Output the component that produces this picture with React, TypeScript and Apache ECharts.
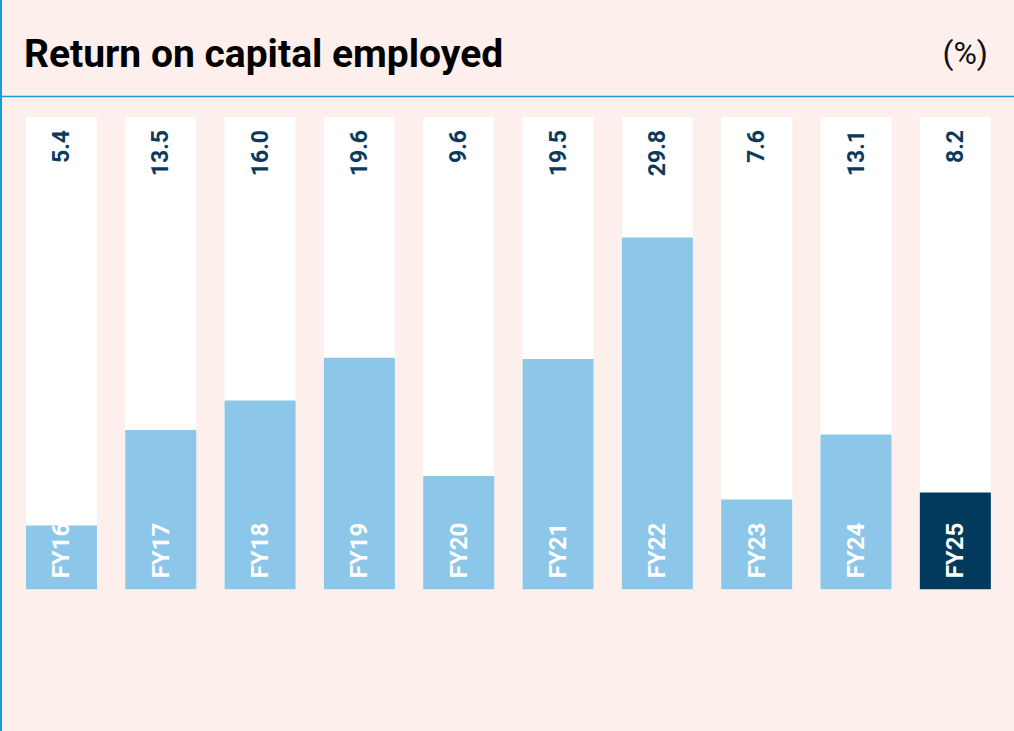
import React, { useEffect, useRef } from "react";
import * as echarts from "echarts";

const categories = ["FY16", "FY17", "FY18", "FY19", "FY20", "FY21", "FY22", "FY23", "FY24", "FY25"];
const values = [5.4, 13.5, 16.0, 19.6, 9.6, 19.5, 29.8, 7.6, 13.1, 8.2];
const axisMax = 40;
const titleText = "Return on capital employed";
const unitText = "(%)";

const BG = "#fdf0ec";
const LINE = "#1b9ad6";
const LIGHT = "#8cc6e8";
const NAVY = "#023a5e";
const FONT = "Roboto, 'Noto Sans', sans-serif";

export default function App() {
  const ref = useRef<HTMLDivElement>(null);
  useEffect(() => {
    if (!ref.current) return;
    const chart = echarts.init(ref.current, null, { renderer: "svg" });
    const last = values.length - 1;
    chart.setOption({
      animation: false,
      backgroundColor: BG,
      title: {
        text: titleText,
        left: 19,
        top: 29,
        textStyle: { fontFamily: FONT, fontSize: 39, fontWeight: "bold", color: "#000" },
      },
      graphic: [
        {
          type: "text",
          right: 26,
          top: 37,
          style: { text: unitText, font: `normal 32px ${FONT}`, fill: "#111" },
        },
        { type: "line", shape: { x1: 0, y1: 96.5, x2: 1014, y2: 96.5 }, style: { stroke: LINE, lineWidth: 1.5 } },
        { type: "line", shape: { x1: 1, y1: 0, x2: 1, y2: 731 }, style: { stroke: LINE, lineWidth: 2 } },
      ],
      grid: { left: 11.8, right: 9, top: 117, bottom: 141.7 },
      xAxis: { type: "category", data: categories, show: false },
      yAxis: { type: "value", min: 0, max: axisMax, show: false },
      series: [
        {
          type: "bar",
          data: categories.map(() => axisMax),
          barWidth: 71,
          barGap: "-100%",
          itemStyle: { color: "#ffffff" },
          silent: true,
          label: {
            show: true,
            position: "insideTop",
            distance: 13,
            rotate: 90,
            align: "right",
            verticalAlign: "middle",
            formatter: (p: any) => values[p.dataIndex].toFixed(1),
            fontFamily: FONT,
            fontSize: 23,
            fontWeight: "bold",
            color: "#0b3a5c",
          },
        },
        {
          type: "bar",
          data: values.map((v, i) => ({ value: v, itemStyle: { color: i === last ? NAVY : LIGHT } })),
          barWidth: 71,
          barGap: "-100%",
          label: {
            show: true,
            position: "insideBottom",
            distance: 11,
            rotate: 90,
            align: "left",
            verticalAlign: "middle",
            formatter: "{b}",
            fontFamily: FONT,
            fontSize: 24,
            fontWeight: "bold",
            color: "#ffffff",
          },
        },
      ],
    });
    return () => chart.dispose();
  }, []);
  return <div ref={ref} style={{ position: "fixed", left: 0, top: 0, width: 1014, height: 731 }} />;
}
